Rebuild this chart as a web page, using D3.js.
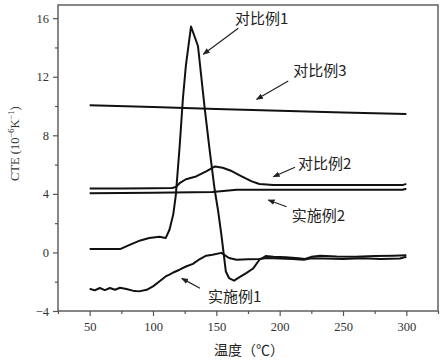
<!DOCTYPE html>
<html><head><meta charset="utf-8">
<script src="https://cdn.jsdelivr.net/npm/d3@7"></script>
<style>
html,body{margin:0;padding:0;background:#fff;}
svg{display:block;}
</style></head>
<body><svg id="c" width="444" height="360"></svg>
<script>
// ---------- data ----------
const xTicks = [50, 100, 150, 200, 250, 300];
const xMinorTicks = [25, 75, 125, 175, 225, 275, 325];
const yTicks = [-4, 0, 4, 8, 12, 16];
const yMinorTicks = [-2, 2, 6, 10, 14];
const xLabel = "温度（℃）";

const cmp3T = [50, 100, 150, 200, 250, 300];
const cmp3V = [10.05, 9.93, 9.8, 9.68, 9.56, 9.45];

const cmp2T = [50, 75, 100, 115, 118, 121, 126, 134, 142, 149, 155, 161, 170, 178, 184, 195, 220, 250, 280, 297, 300];
const cmp2V = [4.37, 4.37, 4.38, 4.40, 4.47, 4.73, 5.0, 5.19, 5.53, 5.87, 5.78, 5.6, 5.19, 4.85, 4.67, 4.6, 4.6, 4.6, 4.6, 4.6, 4.68];

const ex2T = [50, 100, 147, 166, 200, 250, 297, 300];
const ex2V = [4.05, 4.07, 4.12, 4.28, 4.28, 4.28, 4.28, 4.35];

const cmp1T = [50, 74, 82, 90, 97, 105, 110, 113, 116, 118, 121, 123.6, 126, 130, 135.5, 140.8, 144.7, 148.7, 151.3, 154, 157.5, 160, 164, 168, 173.6, 179, 184, 189, 195, 205, 215, 220, 225, 232, 245, 260, 275, 290, 300];
const cmp1V = [0.23, 0.23, 0.53, 0.82, 0.98, 1.07, 0.98, 1.55, 2.6, 3.9, 7.2, 10.5, 12.8, 15.43, 14.1, 9.86, 7.0, 4.28, 2.9, 1.2, -1.3, -1.75, -1.93, -1.7, -1.41, -1.1, -0.5, -0.25, -0.3, -0.33, -0.4, -0.45, -0.3, -0.22, -0.28, -0.3, -0.25, -0.22, -0.2];

const ex1T = [50, 54, 58, 62, 66, 70, 74, 79, 84, 89, 95, 100, 105, 110, 113, 116, 121, 126, 131.5, 137, 142, 147, 154, 160, 166, 175, 184, 190, 200, 210, 219, 225, 235, 250, 265, 280, 295, 300];
const ex1V = [-2.48, -2.59, -2.43, -2.57, -2.43, -2.55, -2.41, -2.5, -2.61, -2.66, -2.55, -2.32, -1.98, -1.64, -1.52, -1.37, -1.18, -0.96, -0.78, -0.45, -0.22, -0.16, -0.03, -0.38, -0.5, -0.46, -0.45, -0.38, -0.42, -0.45, -0.5, -0.4, -0.42, -0.45, -0.4, -0.45, -0.42, -0.3];

const seriesList = [
  {name: "对比例3", t: cmp3T, v: cmp3V},
  {name: "对比例2", t: cmp2T, v: cmp2V},
  {name: "实施例2", t: ex2T, v: ex2V},
  {name: "对比例1", t: cmp1T, v: cmp1V},
  {name: "实施例1", t: ex1T, v: ex1V}
];

// annotation: label anchor (data coords) and arrow tail/head (data coords)
const annLabels = ["对比例1", "对比例3", "对比例2", "实施例2", "实施例1"];
const annText  = [[164.7, 15.95], [210.8, 12.39], [214.5, 6.09], [209.5, 2.51], [143.4, -3.02]];
const annTail  = [[167.3, 15.31], [206.8, 11.71], [212.1, 5.82], [205.5, 3.12], [137.1, -2.45]];
const annHead  = [[139.7, 13.53], [181.8, 10.46], [195.0, 5.17], [191.0, 3.58], [122.7, -1.77]];

// ---------- layout ----------
const W = 444, H = 360;
const m = {l: 58, t: 5, r: 6, b: 49};
const svg = d3.select("#c");
const x = d3.scaleLinear().domain([25, 325]).range([m.l, W - m.r]);
const y = d3.scaleLinear().domain([-4, 16.9]).range([H - m.b, m.t]);

const serif = "'Liberation Serif','DejaVu Serif',serif";
const cjk = "'Noto Sans CJK SC','Noto Sans CJK JP',sans-serif";
const frameCol = "#555";

svg.append("defs").append("marker")
  .attr("id", "ah").attr("viewBox", "0 0 10 10").attr("refX", 9).attr("refY", 5)
  .attr("markerWidth", 7).attr("markerHeight", 7).attr("markerUnits", "userSpaceOnUse")
  .attr("orient", "auto")
  .append("path").attr("d", "M0,1 L10,5 L0,9 Z").attr("fill", "#222");

// frame
svg.append("rect").attr("x", m.l).attr("y", m.t)
  .attr("width", W - m.l - m.r).attr("height", H - m.t - m.b)
  .attr("fill", "none").attr("stroke", frameCol).attr("stroke-width", 1.4);

// axes
function styleAxis(g) {
  g.select(".domain").remove();
  g.selectAll(".tick line").attr("stroke", frameCol).attr("stroke-width", 1.2);
  g.selectAll(".tick text").attr("fill", "#333").style("font-family", serif).style("font-size", "12.5px");
}
svg.append("g").attr("transform", `translate(0,${H - m.b})`)
  .call(d3.axisBottom(x).tickValues(xTicks).tickSize(5).tickPadding(6).tickFormat(d3.format("d")))
  .call(styleAxis);
svg.append("g").attr("transform", `translate(0,${H - m.b})`)
  .call(d3.axisBottom(x).tickValues(xMinorTicks).tickSize(3).tickFormat(""))
  .call(styleAxis);
svg.append("g").attr("transform", `translate(${m.l},0)`)
  .call(d3.axisLeft(y).tickValues(yTicks).tickSize(5).tickPadding(4).tickFormat(d => d < 0 ? "\u2212" + Math.abs(d) : d))
  .call(styleAxis);
svg.append("g").attr("transform", `translate(${m.l},0)`)
  .call(d3.axisLeft(y).tickValues(yMinorTicks).tickSize(3).tickFormat(""))
  .call(styleAxis);

// axis titles
svg.append("text").attr("x", (m.l + W - m.r) / 2 + 1).attr("y", 355)
  .attr("text-anchor", "middle").style("font-family", cjk).style("font-size", "14px").attr("fill", "#222")
  .text(xLabel);

const yl = svg.append("text")
  .attr("transform", `translate(19,181) rotate(-90)`)
  .attr("text-anchor", "start").style("font-family", serif).style("font-size", "12.5px").attr("fill", "#333");
yl.append("tspan").text("CTE (10");
yl.append("tspan").attr("dy", -5).style("font-size", "8.5px").text("\u22126");
yl.append("tspan").attr("dy", 5).text("K");
yl.append("tspan").attr("dy", -5).style("font-size", "8.5px").text("\u22121");
yl.append("tspan").attr("dy", 5).text(")");

// series
const line = d3.line().x(d => x(d[0])).y(d => y(d[1]));
svg.append("g").selectAll("path").data(seriesList).join("path")
  .attr("d", s => line(s.t.map((t, i) => [t, s.v[i]])))
  .attr("fill", "none").attr("stroke", "#111").attr("stroke-width", 2)
  .attr("stroke-linejoin", "round");

// annotations
const ann = svg.append("g");
annLabels.forEach((lab, i) => {
  ann.append("line")
    .attr("x1", x(annTail[i][0])).attr("y1", y(annTail[i][1]))
    .attr("x2", x(annHead[i][0])).attr("y2", y(annHead[i][1]))
    .attr("stroke", "#222").attr("stroke-width", 1.2).attr("marker-end", "url(#ah)");
  ann.append("text").attr("x", x(annText[i][0])).attr("y", y(annText[i][1]))
    .attr("dy", "0.36em").style("font-family", cjk).style("font-size", "15px").attr("fill", "#222")
    .text(lab);
});
</script></body></html>
